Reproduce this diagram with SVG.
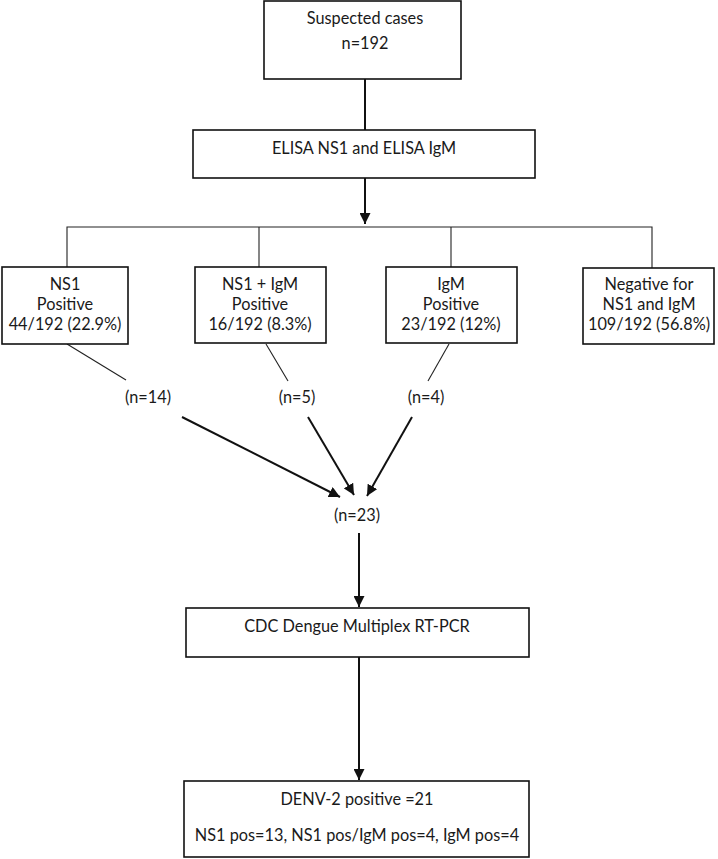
<svg xmlns="http://www.w3.org/2000/svg" width="718" height="859" viewBox="0 0 718 859">
<style>
.box{fill:#fff;stroke:#111;stroke-width:1.6}
text{font-family:"Lato","Liberation Sans",sans-serif;font-size:16.3px;fill:#1a1a1a;text-anchor:middle}
.thin{stroke:#222;stroke-width:1.1;fill:none}
.arr{stroke:#111;stroke-width:2;fill:none;marker-end:url(#ah)}
.ln{stroke:#111;stroke-width:2;fill:none}
</style>
<defs>
<marker id="ah" viewBox="0 0 10 10" refX="10" refY="5" markerWidth="5.5" markerHeight="5.5" orient="auto" markerUnits="strokeWidth">
<path d="M0,0 L10,5 L0,10 z" fill="#111"/>
</marker>
</defs>
<g id="connectors">
<line class="ln" x1="365" y1="79" x2="365" y2="130"/>
<line class="arr" x1="365" y1="178" x2="365" y2="224"/>
<polyline class="thin" points="67,267 67,227 652,227 652,268"/>
<line class="thin" x1="259" y1="227" x2="259" y2="267"/>
<line class="thin" x1="451" y1="227" x2="451" y2="267"/>
<line class="thin" x1="67" y1="344" x2="126" y2="380"/>
<line class="thin" x1="266" y1="344" x2="288" y2="381"/>
<line class="thin" x1="449" y1="344" x2="428" y2="381"/>
<line class="arr" x1="182" y1="417" x2="340" y2="497"/>
<line class="arr" x1="308" y1="417" x2="354" y2="495"/>
<line class="arr" x1="412" y1="417" x2="367" y2="496"/>
<line class="arr" x1="359" y1="533" x2="359" y2="607"/>
<line class="arr" x1="359" y1="657" x2="359" y2="780"/>
</g>
<g id="suspected">
<rect class="box" x="264" y="1" width="197" height="78"/>
<text x="365" y="24">Suspected cases</text>
<text x="365" y="49">n=192</text>
</g>
<g id="elisa">
<rect class="box" x="193" y="130" width="342" height="48"/>
<text x="364" y="154">ELISA NS1 and ELISA IgM</text>
</g>
<g id="ns1">
<rect class="box" x="2" y="267" width="126" height="77"/>
<text x="65" y="290">NS1</text>
<text x="65" y="310">Positive</text>
<text x="65" y="330">44/192 (22.9%)</text>
</g>
<g id="ns1igm">
<rect class="box" x="195" y="267" width="131" height="76"/>
<text x="260" y="290">NS1 + IgM</text>
<text x="260" y="310">Positive</text>
<text x="260" y="330">16/192 (8.3%)</text>
</g>
<g id="igm">
<rect class="box" x="386" y="267" width="131" height="76"/>
<text x="451" y="290">IgM</text>
<text x="451" y="310">Positive</text>
<text x="451" y="330">23/192 (12%)</text>
</g>
<g id="negative">
<rect class="box" x="583" y="268" width="131" height="76"/>
<text x="649" y="290">Negative for</text>
<text x="649" y="310">NS1 and IgM</text>
<text x="649" y="330">109/192 (56.8%)</text>
</g>
<g id="n14"><text x="148" y="403">(n=14)</text></g>
<g id="n5"><text x="297" y="403">(n=5)</text></g>
<g id="n4"><text x="426" y="403">(n=4)</text></g>
<g id="n23"><text x="357" y="521">(n=23)</text></g>
<g id="pcr">
<rect class="box" x="186" y="608" width="343" height="49"/>
<text x="357" y="632">CDC Dengue Multiplex RT-PCR</text>
</g>
<g id="denv">
<rect class="box" x="184" y="781" width="345" height="76"/>
<text x="357" y="805">DENV-2 positive =21</text>
<text x="357" y="841">NS1 pos=13, NS1 pos/IgM pos=4, IgM pos=4</text>
</g>
</svg>
